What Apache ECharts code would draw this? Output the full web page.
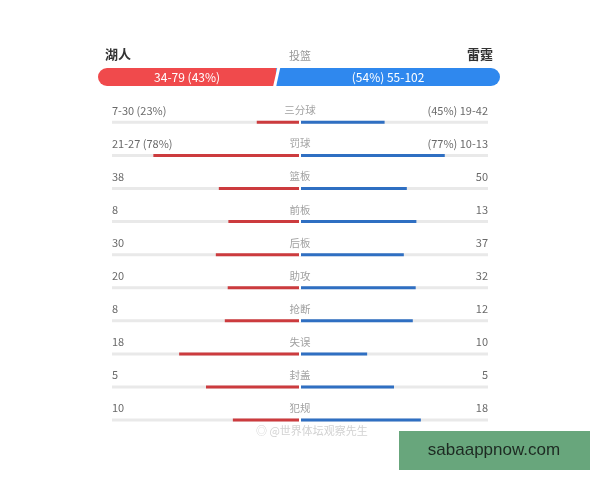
<!DOCTYPE html>
<html>
<head>
<meta charset="utf-8">
<script src="https://cdn.jsdelivr.net/npm/echarts@6/dist/echarts.min.js"></script>
<style>html,body{margin:0;padding:0;background:#fff;}#c{width:600px;height:480px;}</style>
</head>
<body>
<div id="c"></div>
<script>
// ---- data ----
const teamLeft = '湖人';
const teamRight = '雷霆';
const topStat = '投篮';
const topLeftText = '34-79 (43%)';
const topRightText = '(54%) 55-102';
const topLeftPct = 43;
const topRightPct = 54;

const categories = ['三分球', '罚球', '篮板', '前板', '后板', '助攻', '抢断', '失误', '封盖', '犯规'];
const leftText = ['7-30 (23%)', '21-27 (78%)', '38', '8', '30', '20', '8', '18', '5', '10'];
const rightText = ['(45%) 19-42', '(77%) 10-13', '50', '13', '37', '32', '12', '10', '5', '18'];
const leftValues = [23, 78, 38, 8, 30, 20, 8, 18, 5, 10];
const rightValues = [45, 77, 50, 13, 37, 32, 12, 10, 5, 18];
const isPercent = [true, true, false, false, false, false, false, false, false, false];

// ---- derived fractions ----
const leftFrac = leftValues.map((v, i) => isPercent[i] ? v / 100 : v / (v + rightValues[i]));
const rightFrac = rightValues.map((v, i) => isPercent[i] ? v / 100 : v / (leftValues[i] + v));
const topSplit = topLeftPct / (topLeftPct + topRightPct);

const FONT = '"Noto Sans CJK SC", "Noto Sans", sans-serif';
const RED = '#cc3b3e', BLUE = '#2f6fc2', TRACK = '#e9e9e9';

const chart = echarts.init(document.getElementById('c'), null, {renderer: 'canvas'});
const option = {
  animation: false,
  backgroundColor: '#fff',
  textStyle: {fontFamily: FONT},
  grid: [
    {left: 98, right: 100, top: 68, height: 18},
    {left: 112, right: 112, top: 105.8, height: 330.8}
  ],
  xAxis: [
    {gridIndex: 0, type: 'value', min: 0, max: 1, show: false},
    {gridIndex: 1, type: 'value', min: -1, max: 1, show: false}
  ],
  yAxis: [
    {gridIndex: 0, type: 'category', data: [topStat], show: false},
    {gridIndex: 1, type: 'category', data: categories, inverse: true, show: false}
  ],
  graphic: [
    {type: 'text', left: 105, top: 48, style: {text: teamLeft, font: 'bold 13px ' + FONT, fill: '#333'}},
    {type: 'text', right: 107, top: 48, style: {text: teamRight, font: 'bold 13px ' + FONT, fill: '#333'}},
    {type: 'text', x: 300, y: 56, style: {text: topStat, font: '11px ' + FONT, fill: '#999', align: 'center', verticalAlign: 'middle'}},
    {type: 'text', x: 256, y: 431, style: {text: '◎ @世界体坛观察先生', font: '11px ' + FONT, fill: '#d2d2d2', verticalAlign: 'middle'}},
    {type: 'rect', shape: {x: 399, y: 431, width: 191, height: 39}, style: {fill: '#68a67c'}},
    {type: 'text', x: 494, y: 450, style: {text: 'sabaappnow.com', font: '17px "Liberation Sans", Arial, sans-serif', fill: '#1d2a22', align: 'center', verticalAlign: 'middle'}}
  ],
  series: [
    // top shooting bar
    {
      type: 'bar', xAxisIndex: 0, yAxisIndex: 0, stack: 'top', barWidth: 18,
      data: [topSplit],
      itemStyle: {color: '#f04a4c', borderRadius: [9, 0, 0, 9]},
      label: {show: true, position: 'inside', formatter: () => topLeftText, color: '#fff', fontSize: 12, fontFamily: FONT}
    },
    {
      type: 'bar', xAxisIndex: 0, yAxisIndex: 0, stack: 'top', barWidth: 18,
      data: [1 - topSplit],
      itemStyle: {color: '#2f88ee', borderRadius: [0, 9, 9, 0]},
      label: {show: true, position: 'inside', formatter: () => topRightText, color: '#fff', fontSize: 12, fontFamily: FONT}
    },
    {
      type: 'custom', xAxisIndex: 0, yAxisIndex: 0,
      data: [[topSplit, 0]],
      renderItem: function (params, api) {
        const p = api.coord([api.value(0), api.value(1)]);
        const t = p[1] - 9, b = p[1] + 9, c = p[0];
        return {type: 'polygon', shape: {points: [[c + 1, t], [c + 4, t], [c, b], [c - 3, b]]}, style: {fill: '#fff'}};
      },
      z: 5
    },
    // tracks
    {type: 'bar', xAxisIndex: 1, yAxisIndex: 1, stack: 'bg', barWidth: 3, barGap: '-100%',
      data: categories.map(() => -1), itemStyle: {color: TRACK}, silent: true},
    {type: 'bar', xAxisIndex: 1, yAxisIndex: 1, stack: 'bg', barWidth: 3, barGap: '-100%',
      data: categories.map(() => 1), itemStyle: {color: TRACK}, silent: true},
    // values
    {type: 'bar', xAxisIndex: 1, yAxisIndex: 1, stack: 'fg', barWidth: 3, barGap: '-100%',
      data: leftFrac.map(v => -v), itemStyle: {color: RED}},
    {type: 'bar', xAxisIndex: 1, yAxisIndex: 1, stack: 'fg', barWidth: 3, barGap: '-100%',
      data: rightFrac, itemStyle: {color: BLUE}},
    // center divider gap
    {type: 'custom', xAxisIndex: 1, yAxisIndex: 1,
      data: categories.map((c, i) => [0, i]),
      renderItem: function (params, api) {
        const p = api.coord([0, api.value(1)]);
        return {type: 'rect', shape: {x: p[0] - 1, y: p[1] - 2, width: 2, height: 4}, style: {fill: '#fff'}};
      }, z: 5},
    // text labels
    {type: 'scatter', xAxisIndex: 1, yAxisIndex: 1, symbolSize: 0,
      data: categories.map((c, i) => [-1, i]),
      label: {show: true, position: 'right', distance: 0, offset: [0, -12], formatter: p => leftText[p.dataIndex], color: '#444', fontSize: 11, fontFamily: FONT}},
    {type: 'scatter', xAxisIndex: 1, yAxisIndex: 1, symbolSize: 0,
      data: categories.map((c, i) => [1, i]),
      label: {show: true, position: 'left', distance: 0, offset: [0, -12], formatter: p => rightText[p.dataIndex], color: '#444', fontSize: 11, fontFamily: FONT}},
    {type: 'scatter', xAxisIndex: 1, yAxisIndex: 1, symbolSize: 0,
      data: categories.map((c, i) => [0, i]),
      label: {show: true, position: 'inside', offset: [0, -12], formatter: p => categories[p.dataIndex], color: '#888', fontSize: 10.5, fontFamily: FONT}}
  ]
};
chart.setOption(option);
</script>
</body>
</html>
